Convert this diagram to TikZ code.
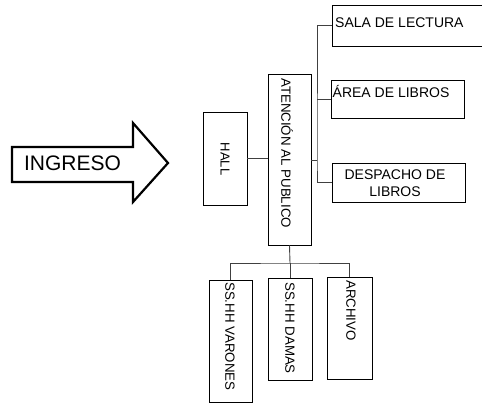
\documentclass[tikz,border=0pt]{standalone}
\usepackage{fontspec}
\setmainfont{Liberation Sans}
\begin{document}
\begin{tikzpicture}[x=1pt,y=-1pt,
  boxst/.style={draw=black, line width=0.9pt, rectangle, inner sep=0pt, fill=white},
  conn/.style={draw=black!75, line width=0.9pt},
  lbl/.style={inner sep=0pt, font=\fontsize{14}{17}\selectfont, text=black},
  vlbl/.style={inner sep=0pt, font=\fontsize{13.3}{16}\selectfont, text=black, rotate=-90, anchor=west}]
\useasboundingbox (0,0) rectangle (482,403);
% entrance arrow
\draw[line width=2.2pt, line join=miter, fill=white] (12,147) -- (133,147) -- (133,123) -- (168,163) -- (133,202) -- (133,182) -- (12,182) -- cycle;
\node[inner sep=0pt, font=\fontsize{21}{24}\selectfont] (ingreso) at (72.5,163) {INGRESO};
% boxes
\node[boxst, minimum width=44pt, minimum height=93pt] (hall) at (225,158.5) {};
\node[boxst, minimum width=43pt, minimum height=171pt] (aten) at (289.5,159.5) {};
\node[boxst, minimum width=158pt, minimum height=41pt] (sala) at (411,25.5) {};
\node[boxst, minimum width=133pt, minimum height=38pt] (area) at (397.5,99) {};
\node[boxst, minimum width=133pt, minimum height=39pt] (desp) at (398.5,182.5) {};
\node[boxst, minimum width=43pt, minimum height=122pt] (varo) at (230.5,341) {};
\node[boxst, minimum width=44pt, minimum height=102pt] (dama) at (290,329) {};
\node[boxst, minimum width=45pt, minimum height=102pt] (arch) at (349.5,328) {};
% labels
\node[inner sep=0pt, font=\fontsize{13}{16}\selectfont, rotate=-90] (thall) at (225,159) {HALL};
\node[vlbl] (taten) at (287,78) {ATENCIÓN AL PUBLICO};
\node[lbl, anchor=west] (tsala) at (335,23) {SALA DE LECTURA};
\node[lbl, anchor=west] (tarea) at (332.5,92) {ÁREA DE LIBROS};
\node[lbl, align=center] (tdesp) at (395,183.5) {DESPACHO DE\\LIBROS};
\node[vlbl] (tvaro) at (230,282) {SS.HH VARONES};
\node[vlbl] (tdama) at (290,282) {SS.HH DAMAS};
\node[vlbl] (tarch) at (351,280) {ARCHIVO};
% connectors
\coordinate (rt) at (317,160);
\coordinate (bt) at (290,263);
\draw[conn] (hall.east) -- (hall.east -| aten.west);
\draw[conn] (aten.east |- rt) -- (rt);
\draw[conn] (sala.west) -| (rt) |- (desp.west);
\draw[conn] (area.west) -- (area.west -| rt);
\draw[conn] (aten.south) -- (bt);
\draw[conn] (varo.north) |- (bt) -| (arch.north);
\draw[conn] (bt) -- (dama.north);
\end{tikzpicture}
\end{document}
